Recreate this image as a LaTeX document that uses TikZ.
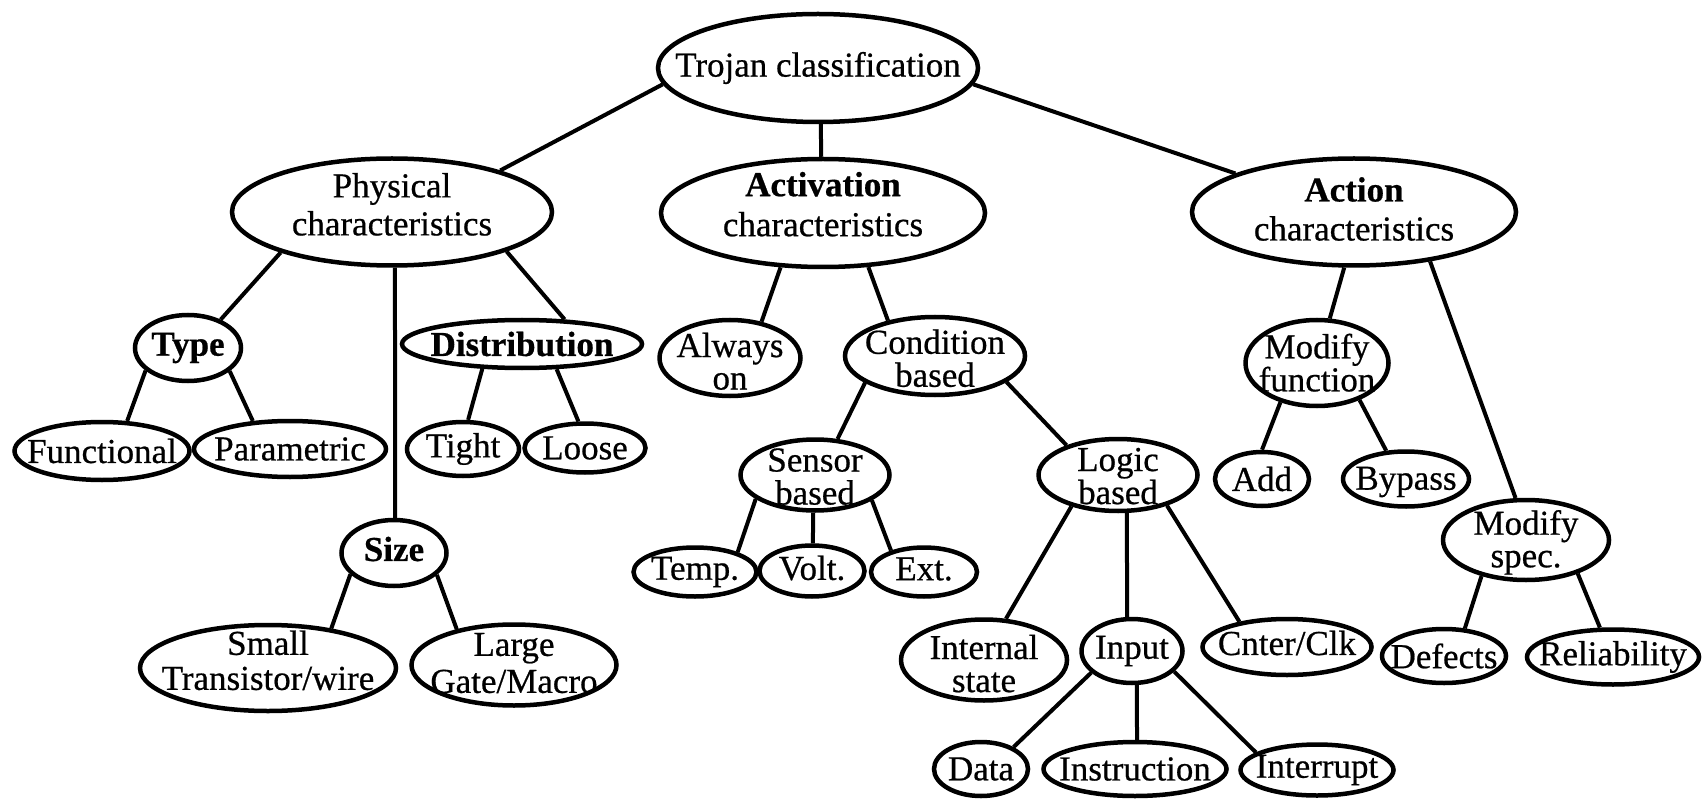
\documentclass[tikz,border=0pt]{standalone}
\usepackage{fontspec}
\setmainfont{Liberation Serif}[UprightFeatures={FakeBold=0.6}, BoldFeatures={FakeBold=0.6}]
\usetikzlibrary{shapes.geometric}
\setlength{\lineskiplimit}{-100pt}
\begin{document}
\begin{tikzpicture}[x=1pt, y=-1pt,
  ell/.style n args={2}{ellipse, draw, line width=4.5pt, inner sep=0pt,
    minimum width=#1pt, minimum height=#2pt},
  every label/.style={font=\fontsize{35pt}{37pt}\selectfont, align=center, inner sep=0pt},
  ls/.style={font=\fontsize{35pt}{#1pt}\selectfont},
  conn/.style={line width=4pt}]
\useasboundingbox[fill=white] (0,0) rectangle (1704,799);

% level 0
\node[ell={320}{108}, label={center:Trojan classification}] (troj) at (818,68) {};
% level 1
\node[ell={320}{107}, label={[ls=38, yshift=7.6pt]center:Physical\\characteristics}] (phys) at (392,212) {};
\node[ell={324}{108}, label={[ls=40, yshift=8.8pt]center:\textbf{Activation}\\characteristics}] (act) at (823,213) {};
\node[ell={324}{107}, label={[ls=39, yshift=3pt]center:\textbf{Action}\\characteristics}] (actn) at (1354,212) {};
% physical
\node[ell={106}{66}, label={center:\textbf{Type}}] (type) at (188,348) {};
\node[ell={240}{48}, label={center:\textbf{Distribution}}] (dist) at (522,344) {};
\node[ell={105}{66}, label={[yshift=4pt]center:\textbf{Size}}] (size) at (394,553) {};
\node[ell={175}{58}, label={center:Functional}] (func) at (102,451) {};
\node[ell={192}{56}, label={center:Parametric}] (param) at (290,449) {};
\node[ell={112}{54}, label={center:Tight}] (tight) at (463,449) {};
\node[ell={121}{49}, label={center:Loose}] (loose) at (585,448) {};
\node[ell={256}{86}, label={[ls=35, yshift=7.6pt]center:Small\\Transistor/wire}] (small) at (268,668) {};
\node[ell={205}{81}, label={[ls=37, yshift=1.9pt]center:Large\\Gate/Macro}] (large) at (514,665) {};
% activation
\node[ell={141}{76}, label={[ls=32.5, yshift=-3.3pt]center:Always\\on}] (always) at (730,358) {};
\node[ell={180}{78}, label={[ls=33, yshift=-2.3pt]center:Condition\\based}] (cond) at (935,356) {};
\node[ell={149}{71}, label={[ls=33, yshift=-1.6pt]center:Sensor\\based}] (sensor) at (815,475) {};
\node[ell={159}{72}, label={[ls=33, yshift=-1.1pt]center:Logic\\based}] (logic) at (1118,475) {};
\node[ell={123}{49}, label={center:Temp.}] (temp) at (695,572) {};
\node[ell={105}{51}, label={[yshift=3pt]center:Volt.}] (volt) at (812,571) {};
\node[ell={106}{49}, label={[yshift=3pt]center:Ext.}] (ext) at (924,572) {};
\node[ell={166}{81}, label={[ls=33, yshift=-3.6pt]center:Internal\\state}] (internal) at (984,660) {};
\node[ell={101}{64}, label={center:Input}] (input) at (1132,651) {};
\node[ell={169}{56}, label={[yshift=4pt]center:Cnter/Clk}] (cnter) at (1287,647) {};
\node[ell={94}{54}, label={center:Data}] (data) at (981,769) {};
\node[ell={183}{54}, label={center:Instruction}] (instr) at (1135,769) {};
\node[ell={153}{51}, label={center:Interrupt}] (interr) at (1317,770) {};
% action
\node[ell={143}{86}, label={[ls=33, yshift=0.3pt]center:Modify\\function}] (modf) at (1317,363) {};
\node[ell={94}{54}, label={center:Add}] (add) at (1262,479) {};
\node[ell={126}{55}, label={[yshift=-3pt]center:Bypass}] (bypass) at (1406,479) {};
\node[ell={166}{80}, label={[ls=32.5, yshift=-2.4pt]center:Modify\\spec.}] (mods) at (1526,540) {};
\node[ell={124}{54}, label={center:Defects}] (defects) at (1444,656) {};
\node[ell={172}{55}, label={center:Reliability}] (reliab) at (1613,657) {};

% connectors
\draw[conn] (troj.186) -- (phys.21);
\draw[conn] (troj.-87) -- (act.92);
\draw[conn] (troj.-6) -- (actn.162);
\draw[conn] (phys.200) -- (type.41);
\draw[conn] (phys.-87) -- (size.88);
\draw[conn] (phys.-19) -- (dist.30);
\draw[conn] (type.208) -- (func.50);
\draw[conn] (type.-29) -- (param.143);
\draw[conn] (dist.212) -- (tight.80);
\draw[conn] (dist.-36) -- (loose.104);
\draw[conn] (size.206) -- (small.32);
\draw[conn] (size.-27) -- (large.148);
\draw[conn] (act.232) -- (always.49);
\draw[conn] (act.-50) -- (cond.143);
\draw[conn] (cond.201) -- (sensor.58);
\draw[conn] (cond.-20) -- (logic.150);
\draw[conn] (sensor.202) -- (temp.25);
\draw[conn] (sensor.-93) -- (volt.88);
\draw[conn] (sensor.-24) -- (ext.147);
\draw[conn] (logic.214) -- (internal.62);
\draw[conn] (logic.-77) -- (input.98);
\draw[conn] (logic.-32) -- (cnter.152);
\draw[conn] (input.208) -- (data.34);
\draw[conn] (input.-82) -- (instr.86);
\draw[conn] (input.-26) -- (interr.164);
\draw[conn] (actn.260) -- (modf.74);
\draw[conn] (actn.-33) -- (mods.104);
\draw[conn] (modf.227) -- (add.90);
\draw[conn] (modf.-41) -- (bypass.125);
\draw[conn] (mods.219) -- (defects.53);
\draw[conn] (mods.-33) -- (reliab.114);
\end{tikzpicture}
\end{document}
